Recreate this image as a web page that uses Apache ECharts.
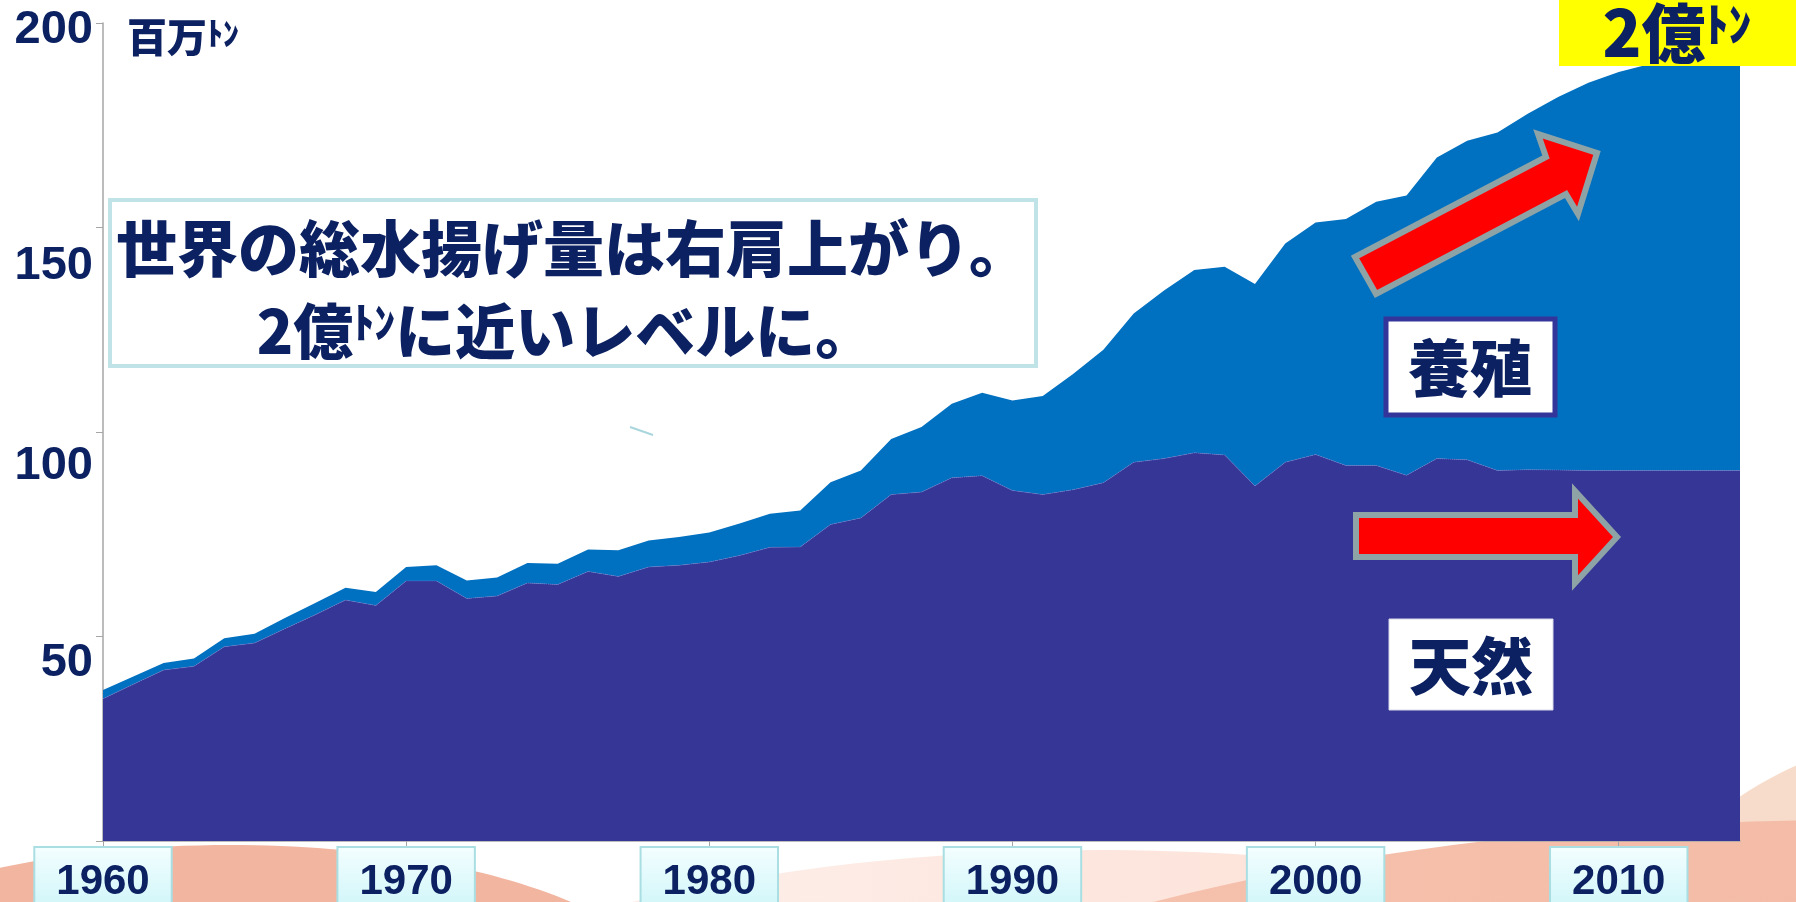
<!DOCTYPE html>
<html>
<head>
<meta charset="utf-8">
<script src="https://cdn.jsdelivr.net/npm/echarts@6/dist/echarts.min.js"></script>
<style>
html,body{margin:0;padding:0;background:#fff;}
#c{width:1796px;height:902px;}
</style>
</head>
<body>
<div id="c"></div>
<script>
const years = ['1960','1961','1962','1963','1964','1965','1966','1967','1968','1969',
'1970','1971','1972','1973','1974','1975','1976','1977','1978','1979',
'1980','1981','1982','1983','1984','1985','1986','1987','1988','1989',
'1990','1991','1992','1993','1994','1995','1996','1997','1998','1999',
'2000','2001','2002','2003','2004','2005','2006','2007','2008','2009',
'2010','2011','2012','2013','2014'];
// 天然 (capture), million tonnes
const capture = [34.8,38.3,41.8,42.7,47.5,48.4,51.9,55.3,58.9,57.6,
63.6,63.6,59.3,59.9,63.1,62.7,65.9,64.7,67.0,67.4,
68.2,69.8,71.8,71.9,77.4,79.0,84.7,85.3,88.8,89.3,
85.7,84.7,85.9,87.6,92.6,93.5,94.9,94.4,86.8,92.6,
94.5,91.8,91.8,89.4,93.5,93.2,90.6,90.8,90.7,90.6,
90.6,90.6,90.6,90.6,90.6];
// 養殖 (aquaculture), million tonnes
const aquaculture = [2.1,1.9,1.7,1.9,2.1,2.3,2.6,2.9,3.0,3.3,
3.4,3.8,4.4,4.5,4.9,5.1,5.4,6.4,6.5,6.9,
7.2,7.8,8.2,8.9,10.3,11.6,13.6,15.9,18.1,20.3,
22.0,24.1,28.3,32.5,36.4,41.1,44.7,46.0,49.4,53.5,
56.7,60.3,64.5,68.4,73.6,78.0,82.6,87.0,91.2,94.8,
97.4,99.3,101.9,103.9,105.9];
const xTickLabels = ['1960','1970','1980','1990','2000','2010'];
const yTickLabels = [50,100,150,200];
const unitLabel = '百万';
const unitSmall = 'ﾄﾝ';
const headline1 = '世界の総水揚げ量は右肩上がり。';
const headline2a = '2億';
const headline2b = 'に近いレベルに。';
const badgeNum = '2億';
const seriesNames = ['天然','養殖'];

const NAVY = '#0c2161';
const NUM_FONT = '"Liberation Sans", Arial, sans-serif';
const JP_FONT = '"Noto Sans CJK JP", sans-serif';
const HEAVY = 900;

const chart = echarts.init(document.getElementById('c'), null, {renderer:'canvas'});

const yRich = {};
const yPad = {200:14, 150:78, 100:68, 50:54};
yTickLabels.forEach(v => {
  yRich['v'+v] = {fontFamily: NUM_FONT, fontSize: 47, fontWeight: 'bold', color: NAVY, padding:[yPad[v],0,0,0]};
});

const option = {
  animation: false,
  backgroundColor: '#ffffff',
  grid: {left:103, right:56, top:23, bottom:61, containLabel:false, outerBoundsMode:'none'},
  xAxis: {
    type: 'category',
    data: years,
    boundaryGap: false,
    axisLine: {show:true, lineStyle:{color:'#a6a6a6', width:1.5}},
    axisTick: {show:true, length:6, lineStyle:{color:'#a6a6a6'}, interval:(i,v)=>xTickLabels.includes(String(v))},
    splitLine: {show:false},
    axisLabel: {
      interval:(i,v)=>xTickLabels.includes(String(v)),
      margin: 7,
      fontFamily: NUM_FONT, fontSize: 42, fontWeight:'bold', color: NAVY,
      lineHeight: 44,
      padding: [12, 21, 16, 21],
      backgroundColor: {type:'linear', x:0, y:0, x2:0, y2:1, colorStops:[{offset:0,color:'#f4feff'},{offset:1,color:'#c8f4f8'}]},
      borderColor: '#a9dfe3', borderWidth: 2
    }
  },
  yAxis: {
    type: 'value',
    min: 0, max: 200, interval: 50,
    axisLine: {show:true, lineStyle:{color:'#a6a6a6', width:1.5}},
    axisTick: {show:true, length:7, lineStyle:{color:'#a6a6a6'}},
    splitLine: {show:false},
    axisLabel: {
      margin: 10,
      formatter: v => yTickLabels.includes(v) ? '{v'+v+'|'+v+'}' : '',
      rich: yRich
    }
  },
  series: [
    {name: seriesNames[0], type:'line', stack:'total', data: capture, symbol:'none',
     lineStyle:{width:1, color:'rgba(110,130,215,0.7)', type:'dotted'},
     areaStyle:{color:'#363696', opacity:1}, z:3},
    {name: seriesNames[1], type:'line', stack:'total', data: aquaculture, symbol:'none',
     lineStyle:{width:0}, areaStyle:{color:'#0070c0', opacity:1}, z:2}
  ],
  graphic: [
    // decorative background swooshes
    {type:'ellipse', z:-10, shape:{cx:1100, cy:1250, rx:950, ry:400}, style:{fill:{type:'linear',x:0,y:0,x2:1,y2:0,colorStops:[{offset:0,color:'rgba(252,228,220,0.2)'},{offset:0.5,color:'#fde6de'},{offset:1,color:'#f9dccb'}]}}},
    {type:'ellipse', z:-9, shape:{cx:1960, cy:1180, rx:420, ry:450}, style:{fill:'#f8dccb'}},
    {type:'ellipse', z:-8, shape:{cx:1850, cy:1300, rx:1246, ry:480}, style:{fill:{type:'linear',x:0,y:0,x2:1,y2:0,colorStops:[{offset:0,color:'#f6c4b0'},{offset:1,color:'#f2b49e'}]}}},
    {type:'ellipse', z:-7, shape:{cx:230, cy:1000, rx:440, ry:155}, style:{fill:'#f2b5a0'}},

    // headline box
    {type:'rect', z:50, shape:{x:110, y:200, width:926, height:166}, style:{fill:'#ffffff', stroke:'#bfe3e7', lineWidth:4}},
    {type:'text', z:51, x:573, y:249, style:{text: headline1, fontFamily: JP_FONT, fontSize:61, fontWeight:HEAVY, fill: NAVY, align:'center', verticalAlign:'middle'}},
    {type:'text', z:51, x:566, y:331, style:{
      text: '{a|'+headline2a+'}{s|'+unitSmall+'}{a|'+headline2b+'}',
      align:'center', verticalAlign:'middle',
      rich:{a:{fontFamily: JP_FONT, fontSize:60, fontWeight:HEAVY, fill:NAVY, color:NAVY},
            s:{fontFamily: JP_FONT, fontSize:42, fontWeight:HEAVY, fill:NAVY, color:NAVY, verticalAlign:'top'}}
    }},

    // unit label
    {type:'text', z:51, x:127, y:37, style:{
      text:'{a|'+unitLabel+'}{s|'+unitSmall+'}', align:'left', verticalAlign:'middle',
      rich:{a:{fontFamily: JP_FONT, fontSize:40, fontWeight:HEAVY, fill:NAVY, color:NAVY},
            s:{fontFamily: JP_FONT, fontSize:32, fontWeight:HEAVY, fill:NAVY, color:NAVY, verticalAlign:'top'}}
    }},

    // yellow badge
    {type:'rect', z:50, shape:{x:1559, y:0, width:237, height:66}, style:{fill:'#ffff00'}},
    {type:'text', z:51, x:1677, y:33, style:{
      text:'{a|'+badgeNum+'}{s|'+unitSmall+'}', align:'center', verticalAlign:'middle',
      rich:{a:{fontFamily: JP_FONT, fontSize:64, fontWeight:HEAVY, fill:NAVY, color:NAVY},
            s:{fontFamily: JP_FONT, fontSize:46, fontWeight:HEAVY, fill:NAVY, color:NAVY, verticalAlign:'top'}}
    }},

    // red arrows
    {type:'polygon', z:60, shape:{points:[[1355,257],[1546,157],[1538,134],[1597,153],[1578,214],[1566,194],[1376,294]]},
     style:{fill:'#ff0000', stroke:'#8da3a6', lineWidth:6, lineJoin:'miter'}},
    {type:'polygon', z:60, shape:{points:[[1356,515],[1575,515],[1575,491],[1617,537],[1575,583],[1575,557],[1356,557]]},
     style:{fill:'#ff0000', stroke:'#8da3a6', lineWidth:6, lineJoin:'miter'}},

    // series labels
    {type:'rect', z:60, shape:{x:1386, y:319, width:169, height:96}, style:{fill:'#ffffff', stroke:'#34359a', lineWidth:5}},
    {type:'text', z:61, x:1470, y:368, style:{text: seriesNames[1], fontFamily: JP_FONT, fontSize:62, fontWeight:HEAVY, fill:NAVY, align:'center', verticalAlign:'middle'}},
    {type:'rect', z:60, shape:{x:1389, y:619, width:164, height:91}, style:{fill:'#ffffff', stroke:'#d8d8e8', lineWidth:1}},
    {type:'text', z:61, x:1471, y:666, style:{text: seriesNames[0], fontFamily: JP_FONT, fontSize:62, fontWeight:HEAVY, fill:NAVY, align:'center', verticalAlign:'middle'}},

    // stray stroke
    {type:'line', z:40, shape:{x1:630, y1:427, x2:653, y2:435}, style:{stroke:'#a9d6dc', lineWidth:2}}
  ]
};
chart.setOption(option);
</script>
</body>
</html>
